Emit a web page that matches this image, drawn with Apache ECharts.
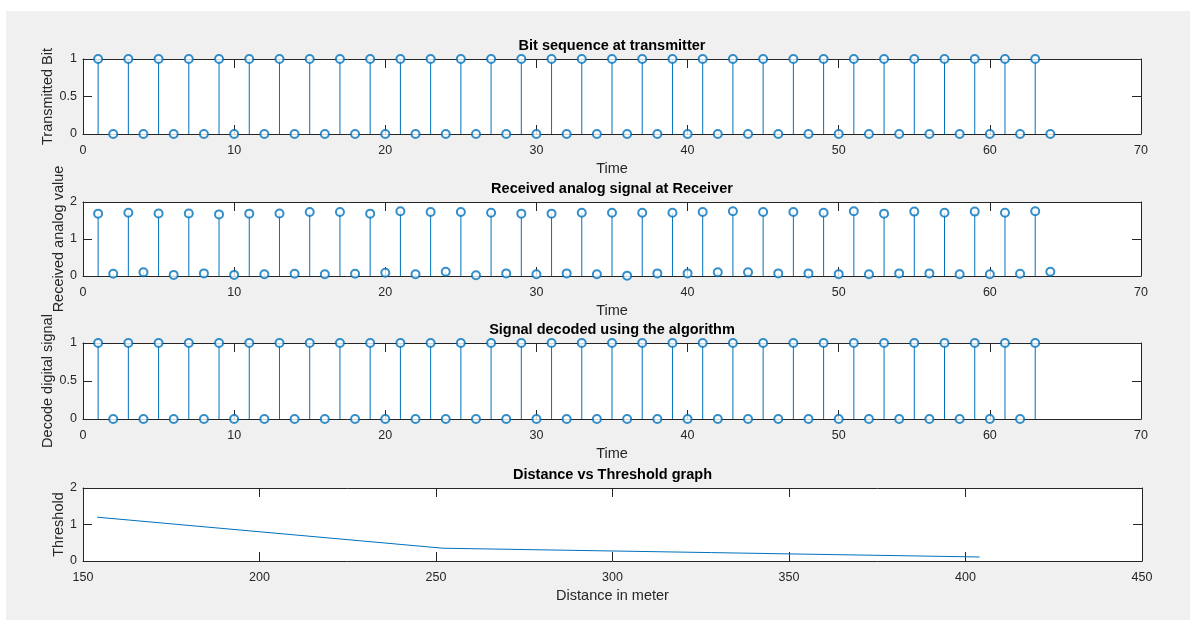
<!DOCTYPE html>
<html>
<head>
<meta charset="utf-8">
<script src="https://cdn.jsdelivr.net/npm/echarts@6/dist/echarts.min.js"></script>
<style>
html,body{margin:0;padding:0;background:#ffffff;}
#chart{width:1196px;height:627px;}
</style>
</head>
<body>
<div id="chart"></div>
<script>
// ---------------- data ----------------
const timeIndex = [1,2,3,4,5,6,7,8,9,10,11,12,13,14,15,16,17,18,19,20,21,22,23,24,25,26,27,28,29,30,31,32,
  33,34,35,36,37,38,39,40,41,42,43,44,45,46,47,48,49,50,51,52,53,54,55,56,57,58,59,60,61,62,63,64];
const transmittedBit = [1,0,1,0,1,0,1,0,1,0,1,0,1,0,1,0,1,0,1,0,1,0,1,0,1,0,1,0,1,0,1,0,
  1,0,1,0,1,0,1,0,1,0,1,0,1,0,1,0,1,0,1,0,1,0,1,0,1,0,1,0,1,0,1,0];
const receivedValue = [1.685,0.06,1.71,0.10,1.69,0.03,1.69,0.07,1.665,0.03,1.685,0.045,1.69,0.06,1.73,0.045,
  1.73,0.06,1.685,0.09,1.75,0.045,1.73,0.115,1.73,0.02,1.71,0.07,1.685,0.045,1.685,0.07,
  1.71,0.045,1.71,0.01,1.71,0.07,1.71,0.07,1.73,0.10,1.75,0.10,1.73,0.07,1.73,0.07,
  1.71,0.05,1.75,0.045,1.685,0.07,1.74,0.07,1.71,0.045,1.74,0.045,1.71,0.06,1.75,0.115];
const decodedBit = [1,0,1,0,1,0,1,0,1,0,1,0,1,0,1,0,1,0,1,0,1,0,1,0,1,0,1,0,1,0,1,0,
  1,0,1,0,1,0,1,0,1,0,1,0,1,0,1,0,1,0,1,0,1,0,1,0,1,0,1,0,1,0,1];
const distance = [154, 252, 404];
const threshold = [1.2, 0.35, 0.11];

const titles = ['Bit sequence at transmitter', 'Received analog signal at Receiver',
  'Signal decoded using the algorithm', 'Distance vs Threshold graph'];
const xNames = ['Time', 'Time', 'Time', 'Distance in meter'];
const yNames = ['Transmitted Bit', 'Received analog value', 'Decode digital signal', 'Threshold'];

// ---------------- layout / style ----------------
const FONT = '"Liberation Sans", Arial, Helvetica, sans-serif';
const AX = '#262626';
const BLUE = '#0072BD';
const grids = [
  {left: 83, top: 59, width: 1058, height: 75},
  {left: 83, top: 202, width: 1058, height: 74},
  {left: 83, top: 343, width: 1058, height: 76},
  {left: 83, top: 488, width: 1059, height: 73}
];
const xRanges = [[0,70,10],[0,70,10],[0,70,10],[150,450,50]];
const yRanges = [[0,1,0.5],[0,2,1],[0,1,0.5],[0,2,1]];
const yNameGaps = [28, 17, 28, 17];

function pairs(xs, ys) { return ys.map((v, i) => [xs[i], v]); }

const xAxis = [], yAxis = [], series = [], graphic = [];
graphic.push({type: 'rect', z: -100, shape: {x: 6, y: 11, width: 1184, height: 609}, style: {fill: '#f0f0f0'}});

grids.forEach((g, i) => {
  const [xmin, xmax, xint] = xRanges[i];
  const [ymin, ymax, yint] = yRanges[i];
  const tick = {inside: true, length: 9, lineStyle: {color: AX, width: 1}};
  const line = {show: true, onZero: false, lineStyle: {color: AX, width: 1}};
  xAxis.push({type: 'value', gridIndex: i, position: 'bottom', min: xmin, max: xmax, interval: xint,
    axisLine: line, axisTick: tick, splitLine: {show: false},
    axisLabel: {color: AX, fontFamily: FONT, fontSize: 12.5, margin: 10},
    name: xNames[i], nameLocation: 'middle', nameGap: 27, nameMoveOverlap: false,
    nameTextStyle: {color: AX, fontFamily: FONT, fontSize: 14.5}});
  xAxis.push({type: 'value', gridIndex: i, position: 'top', min: xmin, max: xmax, interval: xint,
    axisLine: line, axisTick: tick, splitLine: {show: false}, axisLabel: {show: false}});
  yAxis.push({type: 'value', gridIndex: i, position: 'left', min: ymin, max: ymax, interval: yint,
    axisLine: line, axisTick: tick, splitLine: {show: false},
    axisLabel: {color: AX, fontFamily: FONT, fontSize: 12.5, margin: 6},
    name: yNames[i], nameLocation: 'middle', nameGap: yNameGaps[i], nameRotate: 90, nameMoveOverlap: false,
    nameTextStyle: {color: AX, fontFamily: FONT, fontSize: 14.5}});
  yAxis.push({type: 'value', gridIndex: i, position: 'right', min: ymin, max: ymax, interval: yint,
    axisLine: line, axisTick: tick, splitLine: {show: false}, axisLabel: {show: false}});
  graphic.push({type: 'text', z: 10, style: {text: titles[i], x: g.left + g.width / 2, y: g.top - 13,
    textAlign: 'center', textVerticalAlign: 'middle', font: 'bold 14.5px ' + FONT, fill: '#000'}});
});

const stemSets = [
  pairs(timeIndex, transmittedBit),
  pairs(timeIndex, receivedValue),
  pairs(timeIndex.slice(0, decodedBit.length), decodedBit)
];
stemSets.forEach((d, i) => {
  series.push({type: 'bar', xAxisIndex: 2 * i, yAxisIndex: 2 * i, data: d, barWidth: 1,
    itemStyle: {color: BLUE}, silent: true, z: 2});
  series.push({type: 'scatter', xAxisIndex: 2 * i, yAxisIndex: 2 * i, data: d,
    symbol: 'emptyCircle', symbolSize: 8,
    itemStyle: {color: BLUE, borderColor: BLUE, borderWidth: 1.2}, silent: true, z: 3});
});
series.push({type: 'line', xAxisIndex: 6, yAxisIndex: 6, data: pairs(distance, threshold),
  showSymbol: false, symbol: 'none', lineStyle: {color: BLUE, width: 1}, silent: true});

const chart = echarts.init(document.getElementById('chart'), null, {renderer: 'canvas'});
chart.setOption({
  animation: false,
  backgroundColor: '#ffffff',
  grid: grids.map(g => Object.assign({show: true, backgroundColor: '#ffffff', borderWidth: 0, containLabel: false}, g)),
  xAxis, yAxis, series, graphic
});
</script>
</body>
</html>
